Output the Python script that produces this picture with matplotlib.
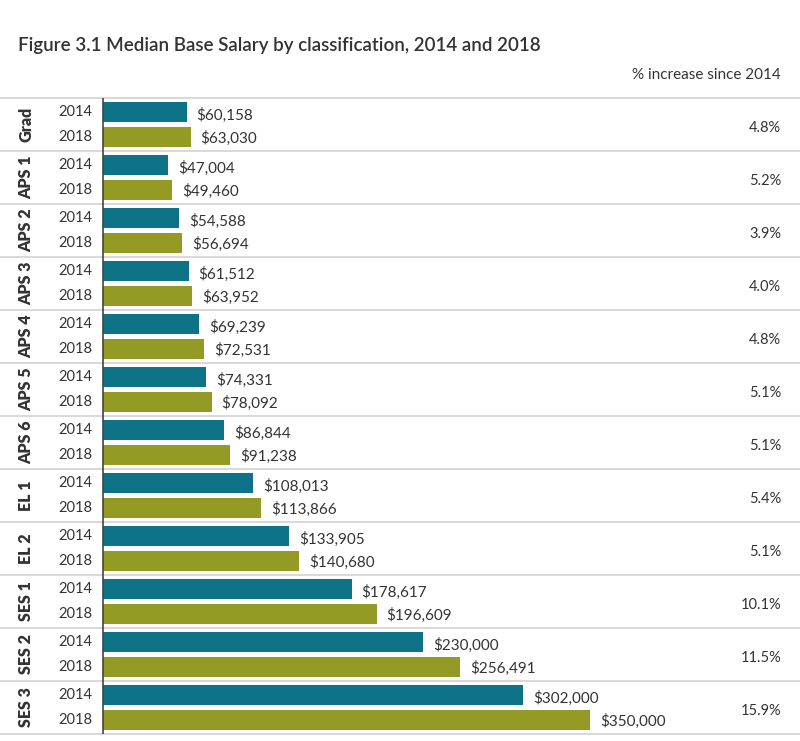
import matplotlib
matplotlib.use('Agg')
from matplotlib import pyplot as plt

# data
groups = ["Grad", "APS 1", "APS 2", "APS 3", "APS 4", "APS 5", "APS 6",
          "EL 1", "EL 2", "SES 1", "SES 2", "SES 3"]
salary_2014 = [60158, 47004, 54588, 61512, 69239, 74331, 86844,
               108013, 133905, 178617, 230000, 302000]
salary_2018 = [63030, 49460, 56694, 63952, 72531, 78092, 91238,
               113866, 140680, 196609, 256491, 350000]
increase = ["4.8%", "5.2%", "3.9%", "4.0%", "4.8%", "5.1%", "5.1%",
            "5.4%", "5.1%", "10.1%", "11.5%", "15.9%"]
years = ["2014", "2018"]

teal = "#0f7387"
olive = "#939b24"
text_col = "#333333"
plt.rcParams['font.family'] = ['Lato', 'DejaVu Sans']

W, H = 800, 741
fig = plt.figure(figsize=(W / 100, H / 100), dpi=100)
fig.patch.set_facecolor("white")

# axes spans from the vertical axis line (x=102px) to the right edge
left_px, top_px, bot_px = 102, 98, 734
ax = fig.add_axes([left_px / W, 1 - bot_px / H, 1 - left_px / W, (bot_px - top_px) / H])
px_per_dollar = (590 - 103) / 350000
ax.set_xlim(-1 / px_per_dollar, (W - left_px) / px_per_dollar - 1 / px_per_dollar)
ax.set_ylim(len(groups), 0)
ax.axis("off")

off14, off18, bh = 0.263, 0.74, 0.375
ys14 = [i + off14 for i in range(len(groups))]
ys18 = [i + off18 for i in range(len(groups))]
ax.barh(ys14, salary_2014, height=bh, color=teal)
ax.barh(ys18, salary_2018, height=bh, color=olive)

gap = 10 / px_per_dollar
grp_h = (bot_px - top_px) / len(groups)
for i, g in enumerate(groups):
    ax.text(salary_2014[i] + gap, ys14[i] + 0.06, "${:,}".format(salary_2014[i]),
            va="center", ha="left", fontsize=11, color=text_col)
    ax.text(salary_2018[i] + gap, ys18[i] + 0.03, "${:,}".format(salary_2018[i]),
            va="center", ha="left", fontsize=11, color=text_col)
    # year labels left of axis
    ax.text(-11 / px_per_dollar, ys14[i], years[0], va="center", ha="right",
            fontsize=10.5, color=text_col)
    ax.text(-11 / px_per_dollar, ys18[i], years[1], va="center", ha="right",
            fontsize=10.5, color=text_col)
    # group label, rotated
    ax.text(-77 / px_per_dollar, i + 0.5, g, va="center", ha="center",
            rotation=90, fontsize=11.5, fontweight="heavy", color=text_col)
    # percent increase on the right
    fig.text(781 / W, 1 - (top_px + (i + 0.56) * grp_h) / H,
             increase[i], ha="right", va="center", fontsize=10.5, color=text_col)

# separator lines across the whole width
xmin = -left_px / (W - left_px)
for i in range(len(groups) + 1):
    ax.axhline(i, xmin=xmin, xmax=1, color="#d6d6d6", lw=1.3, clip_on=False)
ax.axvline(0, color="#444444", lw=1.2)

fig.text(18 / W, 1 - 45 / H, "Figure 3.1 Median Base Salary by classification, 2014 and 2018",
         ha="left", va="center", fontsize=13.5, fontweight="semibold", color=text_col)
fig.text(781 / W, 1 - 75 / H, "% increase since 2014", ha="right", va="center",
         fontsize=11, color=text_col)

fig.savefig("out.png", dpi=100, facecolor="white")
